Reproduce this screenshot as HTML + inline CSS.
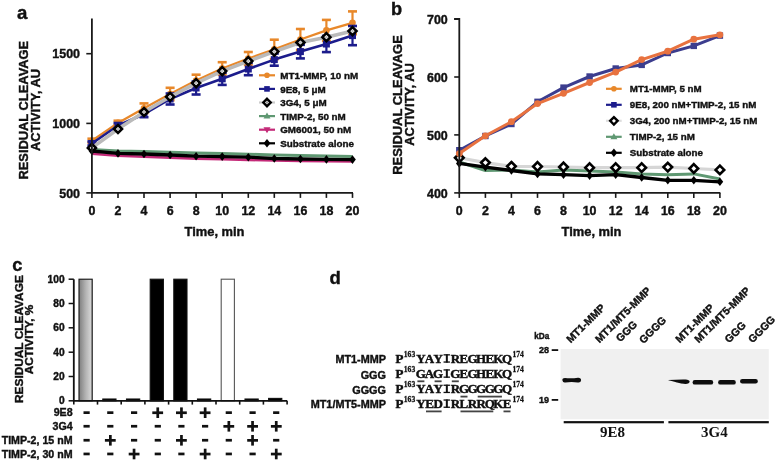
<!DOCTYPE html>
<html><head><meta charset="utf-8"><style>
html,body{margin:0;padding:0;background:#fff;width:776px;height:461px;overflow:hidden}
svg{display:block;filter:blur(0.4px)}
</style></head><body>
<svg width="776" height="461" viewBox="0 0 776 461">
<rect width="776" height="461" fill="#fff"/>
<g id="pa">
<polyline points="91.9,153.8 118.0,155.8 144.0,156.8 170.1,157.8 196.1,158.6 222.2,159.3 248.3,159.9 274.3,160.5 300.4,161.0 326.4,161.3 352.5,161.5" fill="none" stroke="#c42a78" stroke-width="2.6" stroke-linejoin="round" />
<polyline points="91.9,149.5 118.0,151.0 144.0,151.6 170.1,152.3 196.1,153.0 222.2,153.6 248.3,154.2 274.3,155.0 300.4,155.6 326.4,156.0 352.5,156.5" fill="none" stroke="#5f9872" stroke-width="3" stroke-linejoin="round" />
<polyline points="91.9,151.0 118.0,153.4 144.0,154.0 170.1,155.0 196.1,156.2 222.2,156.6 248.3,157.2 274.3,158.5 300.4,159.0 326.4,159.4 352.5,159.6" fill="none" stroke="#000" stroke-width="3.3" stroke-linejoin="round" />
<path d="M91.9,146.7 L95.2,151.0 L91.9,155.3 L88.6,151.0 Z" fill="#000"/>
<path d="M118.0,149.1 L121.3,153.4 L118.0,157.7 L114.7,153.4 Z" fill="#000"/>
<path d="M144.0,149.7 L147.3,154.0 L144.0,158.3 L140.7,154.0 Z" fill="#000"/>
<path d="M170.1,150.7 L173.4,155.0 L170.1,159.3 L166.8,155.0 Z" fill="#000"/>
<path d="M196.1,151.9 L199.4,156.2 L196.1,160.5 L192.8,156.2 Z" fill="#000"/>
<path d="M222.2,152.3 L225.5,156.6 L222.2,160.9 L218.9,156.6 Z" fill="#000"/>
<path d="M248.3,152.9 L251.6,157.2 L248.3,161.5 L245.0,157.2 Z" fill="#000"/>
<path d="M274.3,154.2 L277.6,158.5 L274.3,162.8 L271.0,158.5 Z" fill="#000"/>
<path d="M300.4,154.7 L303.7,159.0 L300.4,163.3 L297.1,159.0 Z" fill="#000"/>
<path d="M326.4,155.1 L329.7,159.4 L326.4,163.7 L323.1,159.4 Z" fill="#000"/>
<path d="M352.5,155.3 L355.8,159.6 L352.5,163.9 L349.2,159.6 Z" fill="#000"/>
<polyline points="91.9,140.7 118.0,122.9 144.0,108.2 170.1,94.0 196.1,80.5 222.2,68.5 248.3,58.5 274.3,49.4 300.4,39.5 326.4,30.4 352.5,22.8" fill="none" stroke="#e8882a" stroke-width="2.3" stroke-linejoin="round" />
<line x1="91.9" y1="140.7" x2="91.9" y2="138.7" stroke="#e8882a" stroke-width="2.2"/><line x1="87.4" y1="138.7" x2="96.4" y2="138.7" stroke="#e8882a" stroke-width="2.6"/><line x1="91.9" y1="140.7" x2="91.9" y2="142.7" stroke="#e8882a" stroke-width="2.2"/><line x1="87.4" y1="142.7" x2="96.4" y2="142.7" stroke="#e8882a" stroke-width="2.6"/>
<circle cx="91.9" cy="140.7" r="3.3" fill="#e8882a"/>
<line x1="118.0" y1="122.9" x2="118.0" y2="120.7" stroke="#e8882a" stroke-width="2.2"/><line x1="113.5" y1="120.7" x2="122.5" y2="120.7" stroke="#e8882a" stroke-width="2.6"/><line x1="118.0" y1="122.9" x2="118.0" y2="125.1" stroke="#e8882a" stroke-width="2.2"/><line x1="113.5" y1="125.1" x2="122.5" y2="125.1" stroke="#e8882a" stroke-width="2.6"/>
<circle cx="118.0" cy="122.9" r="3.3" fill="#e8882a"/>
<line x1="144.0" y1="108.2" x2="144.0" y2="103.4" stroke="#e8882a" stroke-width="2.2"/><line x1="139.5" y1="103.4" x2="148.5" y2="103.4" stroke="#e8882a" stroke-width="2.6"/><line x1="144.0" y1="108.2" x2="144.0" y2="113.0" stroke="#e8882a" stroke-width="2.2"/><line x1="139.5" y1="113.0" x2="148.5" y2="113.0" stroke="#e8882a" stroke-width="2.6"/>
<circle cx="144.0" cy="108.2" r="3.3" fill="#e8882a"/>
<line x1="170.1" y1="94.0" x2="170.1" y2="87.8" stroke="#e8882a" stroke-width="2.2"/><line x1="165.6" y1="87.8" x2="174.6" y2="87.8" stroke="#e8882a" stroke-width="2.6"/><line x1="170.1" y1="94.0" x2="170.1" y2="100.2" stroke="#e8882a" stroke-width="2.2"/><line x1="165.6" y1="100.2" x2="174.6" y2="100.2" stroke="#e8882a" stroke-width="2.6"/>
<circle cx="170.1" cy="94.0" r="3.3" fill="#e8882a"/>
<line x1="196.1" y1="80.5" x2="196.1" y2="74.7" stroke="#e8882a" stroke-width="2.2"/><line x1="191.6" y1="74.7" x2="200.6" y2="74.7" stroke="#e8882a" stroke-width="2.6"/><line x1="196.1" y1="80.5" x2="196.1" y2="86.3" stroke="#e8882a" stroke-width="2.2"/><line x1="191.6" y1="86.3" x2="200.6" y2="86.3" stroke="#e8882a" stroke-width="2.6"/>
<circle cx="196.1" cy="80.5" r="3.3" fill="#e8882a"/>
<line x1="222.2" y1="68.5" x2="222.2" y2="62.2" stroke="#e8882a" stroke-width="2.2"/><line x1="217.7" y1="62.2" x2="226.7" y2="62.2" stroke="#e8882a" stroke-width="2.6"/><line x1="222.2" y1="68.5" x2="222.2" y2="74.8" stroke="#e8882a" stroke-width="2.2"/><line x1="217.7" y1="74.8" x2="226.7" y2="74.8" stroke="#e8882a" stroke-width="2.6"/>
<circle cx="222.2" cy="68.5" r="3.3" fill="#e8882a"/>
<line x1="248.3" y1="58.5" x2="248.3" y2="52.0" stroke="#e8882a" stroke-width="2.2"/><line x1="243.8" y1="52.0" x2="252.8" y2="52.0" stroke="#e8882a" stroke-width="2.6"/><line x1="248.3" y1="58.5" x2="248.3" y2="65.0" stroke="#e8882a" stroke-width="2.2"/><line x1="243.8" y1="65.0" x2="252.8" y2="65.0" stroke="#e8882a" stroke-width="2.6"/>
<circle cx="248.3" cy="58.5" r="3.3" fill="#e8882a"/>
<line x1="274.3" y1="49.4" x2="274.3" y2="39.7" stroke="#e8882a" stroke-width="2.2"/><line x1="269.8" y1="39.7" x2="278.8" y2="39.7" stroke="#e8882a" stroke-width="2.6"/><line x1="274.3" y1="49.4" x2="274.3" y2="59.1" stroke="#e8882a" stroke-width="2.2"/><line x1="269.8" y1="59.1" x2="278.8" y2="59.1" stroke="#e8882a" stroke-width="2.6"/>
<circle cx="274.3" cy="49.4" r="3.3" fill="#e8882a"/>
<line x1="300.4" y1="39.5" x2="300.4" y2="29.0" stroke="#e8882a" stroke-width="2.2"/><line x1="295.9" y1="29.0" x2="304.9" y2="29.0" stroke="#e8882a" stroke-width="2.6"/><line x1="300.4" y1="39.5" x2="300.4" y2="50.0" stroke="#e8882a" stroke-width="2.2"/><line x1="295.9" y1="50.0" x2="304.9" y2="50.0" stroke="#e8882a" stroke-width="2.6"/>
<circle cx="300.4" cy="39.5" r="3.3" fill="#e8882a"/>
<line x1="326.4" y1="30.4" x2="326.4" y2="19.9" stroke="#e8882a" stroke-width="2.2"/><line x1="321.9" y1="19.9" x2="330.9" y2="19.9" stroke="#e8882a" stroke-width="2.6"/><line x1="326.4" y1="30.4" x2="326.4" y2="40.9" stroke="#e8882a" stroke-width="2.2"/><line x1="321.9" y1="40.9" x2="330.9" y2="40.9" stroke="#e8882a" stroke-width="2.6"/>
<circle cx="326.4" cy="30.4" r="3.3" fill="#e8882a"/>
<line x1="352.5" y1="22.8" x2="352.5" y2="11.4" stroke="#e8882a" stroke-width="2.2"/><line x1="348.0" y1="11.4" x2="357.0" y2="11.4" stroke="#e8882a" stroke-width="2.6"/><line x1="352.5" y1="22.8" x2="352.5" y2="34.2" stroke="#e8882a" stroke-width="2.2"/><line x1="348.0" y1="34.2" x2="357.0" y2="34.2" stroke="#e8882a" stroke-width="2.6"/>
<circle cx="352.5" cy="22.8" r="3.3" fill="#e8882a"/>
<polyline points="91.9,143.5 118.0,125.5 144.0,114.2 170.1,99.0 196.1,88.0 222.2,78.8 248.3,69.0 274.3,59.6 300.4,51.6 326.4,44.0 352.5,35.6" fill="none" stroke="#1c1c8c" stroke-width="2.6" stroke-linejoin="round" />
<line x1="91.9" y1="143.5" x2="91.9" y2="141.5" stroke="#1c1c8c" stroke-width="2.2"/><line x1="87.4" y1="141.5" x2="96.4" y2="141.5" stroke="#1c1c8c" stroke-width="2.6"/><line x1="91.9" y1="143.5" x2="91.9" y2="145.5" stroke="#1c1c8c" stroke-width="2.2"/><line x1="87.4" y1="145.5" x2="96.4" y2="145.5" stroke="#1c1c8c" stroke-width="2.6"/>
<rect x="88.4" y="140.0" width="7" height="7" fill="#1c1c8c"/>
<line x1="118.0" y1="125.5" x2="118.0" y2="123.0" stroke="#1c1c8c" stroke-width="2.2"/><line x1="113.5" y1="123.0" x2="122.5" y2="123.0" stroke="#1c1c8c" stroke-width="2.6"/><line x1="118.0" y1="125.5" x2="118.0" y2="128.0" stroke="#1c1c8c" stroke-width="2.2"/><line x1="113.5" y1="128.0" x2="122.5" y2="128.0" stroke="#1c1c8c" stroke-width="2.6"/>
<rect x="114.5" y="122.0" width="7" height="7" fill="#1c1c8c"/>
<line x1="144.0" y1="114.2" x2="144.0" y2="111.2" stroke="#1c1c8c" stroke-width="2.2"/><line x1="139.5" y1="111.2" x2="148.5" y2="111.2" stroke="#1c1c8c" stroke-width="2.6"/><line x1="144.0" y1="114.2" x2="144.0" y2="117.2" stroke="#1c1c8c" stroke-width="2.2"/><line x1="139.5" y1="117.2" x2="148.5" y2="117.2" stroke="#1c1c8c" stroke-width="2.6"/>
<rect x="140.5" y="110.7" width="7" height="7" fill="#1c1c8c"/>
<line x1="170.1" y1="99.0" x2="170.1" y2="93.5" stroke="#1c1c8c" stroke-width="2.2"/><line x1="165.6" y1="93.5" x2="174.6" y2="93.5" stroke="#1c1c8c" stroke-width="2.6"/><line x1="170.1" y1="99.0" x2="170.1" y2="104.5" stroke="#1c1c8c" stroke-width="2.2"/><line x1="165.6" y1="104.5" x2="174.6" y2="104.5" stroke="#1c1c8c" stroke-width="2.6"/>
<rect x="166.6" y="95.5" width="7" height="7" fill="#1c1c8c"/>
<line x1="196.1" y1="88.0" x2="196.1" y2="81.5" stroke="#1c1c8c" stroke-width="2.2"/><line x1="191.6" y1="81.5" x2="200.6" y2="81.5" stroke="#1c1c8c" stroke-width="2.6"/><line x1="196.1" y1="88.0" x2="196.1" y2="94.5" stroke="#1c1c8c" stroke-width="2.2"/><line x1="191.6" y1="94.5" x2="200.6" y2="94.5" stroke="#1c1c8c" stroke-width="2.6"/>
<rect x="192.6" y="84.5" width="7" height="7" fill="#1c1c8c"/>
<line x1="222.2" y1="78.8" x2="222.2" y2="72.7" stroke="#1c1c8c" stroke-width="2.2"/><line x1="217.7" y1="72.7" x2="226.7" y2="72.7" stroke="#1c1c8c" stroke-width="2.6"/><line x1="222.2" y1="78.8" x2="222.2" y2="84.9" stroke="#1c1c8c" stroke-width="2.2"/><line x1="217.7" y1="84.9" x2="226.7" y2="84.9" stroke="#1c1c8c" stroke-width="2.6"/>
<rect x="218.7" y="75.3" width="7" height="7" fill="#1c1c8c"/>
<line x1="248.3" y1="69.0" x2="248.3" y2="62.8" stroke="#1c1c8c" stroke-width="2.2"/><line x1="243.8" y1="62.8" x2="252.8" y2="62.8" stroke="#1c1c8c" stroke-width="2.6"/><line x1="248.3" y1="69.0" x2="248.3" y2="75.2" stroke="#1c1c8c" stroke-width="2.2"/><line x1="243.8" y1="75.2" x2="252.8" y2="75.2" stroke="#1c1c8c" stroke-width="2.6"/>
<rect x="244.8" y="65.5" width="7" height="7" fill="#1c1c8c"/>
<line x1="274.3" y1="59.6" x2="274.3" y2="53.5" stroke="#1c1c8c" stroke-width="2.2"/><line x1="269.8" y1="53.5" x2="278.8" y2="53.5" stroke="#1c1c8c" stroke-width="2.6"/><line x1="274.3" y1="59.6" x2="274.3" y2="65.7" stroke="#1c1c8c" stroke-width="2.2"/><line x1="269.8" y1="65.7" x2="278.8" y2="65.7" stroke="#1c1c8c" stroke-width="2.6"/>
<rect x="270.8" y="56.1" width="7" height="7" fill="#1c1c8c"/>
<line x1="300.4" y1="51.6" x2="300.4" y2="44.8" stroke="#1c1c8c" stroke-width="2.2"/><line x1="295.9" y1="44.8" x2="304.9" y2="44.8" stroke="#1c1c8c" stroke-width="2.6"/><line x1="300.4" y1="51.6" x2="300.4" y2="58.4" stroke="#1c1c8c" stroke-width="2.2"/><line x1="295.9" y1="58.4" x2="304.9" y2="58.4" stroke="#1c1c8c" stroke-width="2.6"/>
<rect x="296.9" y="48.1" width="7" height="7" fill="#1c1c8c"/>
<line x1="326.4" y1="44.0" x2="326.4" y2="35.9" stroke="#1c1c8c" stroke-width="2.2"/><line x1="321.9" y1="35.9" x2="330.9" y2="35.9" stroke="#1c1c8c" stroke-width="2.6"/><line x1="326.4" y1="44.0" x2="326.4" y2="52.1" stroke="#1c1c8c" stroke-width="2.2"/><line x1="321.9" y1="52.1" x2="330.9" y2="52.1" stroke="#1c1c8c" stroke-width="2.6"/>
<rect x="322.9" y="40.5" width="7" height="7" fill="#1c1c8c"/>
<line x1="352.5" y1="35.6" x2="352.5" y2="26.0" stroke="#1c1c8c" stroke-width="2.2"/><line x1="348.0" y1="26.0" x2="357.0" y2="26.0" stroke="#1c1c8c" stroke-width="2.6"/><line x1="352.5" y1="35.6" x2="352.5" y2="45.2" stroke="#1c1c8c" stroke-width="2.2"/><line x1="348.0" y1="45.2" x2="357.0" y2="45.2" stroke="#1c1c8c" stroke-width="2.6"/>
<rect x="349.0" y="32.1" width="7" height="7" fill="#1c1c8c"/>
<polyline points="91.9,147.9 118.0,129.0 144.0,112.0 170.1,96.8 196.1,83.1 222.2,71.1 248.3,61.1 274.3,51.6 300.4,42.5 326.4,37.2 352.5,31.1" fill="none" stroke="#bababa" stroke-width="3.6" stroke-linejoin="round" />
<path d="M91.9,143.9 L95.9,147.9 L91.9,151.9 L87.9,147.9 Z" fill="#fff" stroke="#000" stroke-width="2.6"/><circle cx="91.9" cy="147.9" r="1.3" fill="#bbb"/>
<path d="M118.0,125.0 L122.0,129.0 L118.0,133.0 L114.0,129.0 Z" fill="#fff" stroke="#000" stroke-width="2.6"/><circle cx="118.0" cy="129.0" r="1.3" fill="#bbb"/>
<path d="M144.0,108.0 L148.0,112.0 L144.0,116.0 L140.0,112.0 Z" fill="#fff" stroke="#000" stroke-width="2.6"/><circle cx="144.0" cy="112.0" r="1.3" fill="#bbb"/>
<path d="M170.1,92.8 L174.1,96.8 L170.1,100.8 L166.1,96.8 Z" fill="#fff" stroke="#000" stroke-width="2.6"/><circle cx="170.1" cy="96.8" r="1.3" fill="#bbb"/>
<path d="M196.1,79.1 L200.1,83.1 L196.1,87.1 L192.1,83.1 Z" fill="#fff" stroke="#000" stroke-width="2.6"/><circle cx="196.1" cy="83.1" r="1.3" fill="#bbb"/>
<path d="M222.2,67.1 L226.2,71.1 L222.2,75.1 L218.2,71.1 Z" fill="#fff" stroke="#000" stroke-width="2.6"/><circle cx="222.2" cy="71.1" r="1.3" fill="#bbb"/>
<path d="M248.3,57.1 L252.3,61.1 L248.3,65.1 L244.3,61.1 Z" fill="#fff" stroke="#000" stroke-width="2.6"/><circle cx="248.3" cy="61.1" r="1.3" fill="#bbb"/>
<path d="M274.3,47.6 L278.3,51.6 L274.3,55.6 L270.3,51.6 Z" fill="#fff" stroke="#000" stroke-width="2.6"/><circle cx="274.3" cy="51.6" r="1.3" fill="#bbb"/>
<path d="M300.4,38.5 L304.4,42.5 L300.4,46.5 L296.4,42.5 Z" fill="#fff" stroke="#000" stroke-width="2.6"/><circle cx="300.4" cy="42.5" r="1.3" fill="#bbb"/>
<path d="M326.4,33.2 L330.4,37.2 L326.4,41.2 L322.4,37.2 Z" fill="#fff" stroke="#000" stroke-width="2.6"/><circle cx="326.4" cy="37.2" r="1.3" fill="#bbb"/>
<path d="M352.5,27.1 L356.5,31.1 L352.5,35.1 L348.5,31.1 Z" fill="#fff" stroke="#000" stroke-width="2.6"/><circle cx="352.5" cy="31.1" r="1.3" fill="#bbb"/>
<path d="M91.9,18.4 V192.9 H353.0" fill="none" stroke="#1a1a1a" stroke-width="1.8"/>
<line x1="86.3" y1="192.9" x2="91.9" y2="192.9" stroke="#1a1a1a" stroke-width="1.6"/>
<text x="80" y="197.5" text-anchor="end" style="font-family:'Liberation Sans',sans-serif;font-weight:bold;stroke:#111;stroke-width:0.4px;font-size:12.45px" fill="#111">500</text>
<line x1="86.3" y1="123.4" x2="91.9" y2="123.4" stroke="#1a1a1a" stroke-width="1.6"/>
<text x="80" y="128.0" text-anchor="end" style="font-family:'Liberation Sans',sans-serif;font-weight:bold;stroke:#111;stroke-width:0.4px;font-size:12.45px" fill="#111">1000</text>
<line x1="86.3" y1="53.7" x2="91.9" y2="53.7" stroke="#1a1a1a" stroke-width="1.6"/>
<text x="80" y="58.300000000000004" text-anchor="end" style="font-family:'Liberation Sans',sans-serif;font-weight:bold;stroke:#111;stroke-width:0.4px;font-size:12.45px" fill="#111">1500</text>
<line x1="91.9" y1="192.9" x2="91.9" y2="197.9" stroke="#1a1a1a" stroke-width="1.6"/>
<text x="91.9" y="214.8" text-anchor="middle" style="font-family:'Liberation Sans',sans-serif;font-weight:bold;stroke:#111;stroke-width:0.4px;font-size:12.4px" fill="#111">0</text>
<line x1="118.0" y1="192.9" x2="118.0" y2="197.9" stroke="#1a1a1a" stroke-width="1.6"/>
<text x="118.0" y="214.8" text-anchor="middle" style="font-family:'Liberation Sans',sans-serif;font-weight:bold;stroke:#111;stroke-width:0.4px;font-size:12.4px" fill="#111">2</text>
<line x1="144.0" y1="192.9" x2="144.0" y2="197.9" stroke="#1a1a1a" stroke-width="1.6"/>
<text x="144.0" y="214.8" text-anchor="middle" style="font-family:'Liberation Sans',sans-serif;font-weight:bold;stroke:#111;stroke-width:0.4px;font-size:12.4px" fill="#111">4</text>
<line x1="170.1" y1="192.9" x2="170.1" y2="197.9" stroke="#1a1a1a" stroke-width="1.6"/>
<text x="170.1" y="214.8" text-anchor="middle" style="font-family:'Liberation Sans',sans-serif;font-weight:bold;stroke:#111;stroke-width:0.4px;font-size:12.4px" fill="#111">6</text>
<line x1="196.1" y1="192.9" x2="196.1" y2="197.9" stroke="#1a1a1a" stroke-width="1.6"/>
<text x="196.1" y="214.8" text-anchor="middle" style="font-family:'Liberation Sans',sans-serif;font-weight:bold;stroke:#111;stroke-width:0.4px;font-size:12.4px" fill="#111">8</text>
<line x1="222.2" y1="192.9" x2="222.2" y2="197.9" stroke="#1a1a1a" stroke-width="1.6"/>
<text x="222.2" y="214.8" text-anchor="middle" style="font-family:'Liberation Sans',sans-serif;font-weight:bold;stroke:#111;stroke-width:0.4px;font-size:12.4px" fill="#111">10</text>
<line x1="248.3" y1="192.9" x2="248.3" y2="197.9" stroke="#1a1a1a" stroke-width="1.6"/>
<text x="248.3" y="214.8" text-anchor="middle" style="font-family:'Liberation Sans',sans-serif;font-weight:bold;stroke:#111;stroke-width:0.4px;font-size:12.4px" fill="#111">12</text>
<line x1="274.3" y1="192.9" x2="274.3" y2="197.9" stroke="#1a1a1a" stroke-width="1.6"/>
<text x="274.3" y="214.8" text-anchor="middle" style="font-family:'Liberation Sans',sans-serif;font-weight:bold;stroke:#111;stroke-width:0.4px;font-size:12.4px" fill="#111">14</text>
<line x1="300.4" y1="192.9" x2="300.4" y2="197.9" stroke="#1a1a1a" stroke-width="1.6"/>
<text x="300.4" y="214.8" text-anchor="middle" style="font-family:'Liberation Sans',sans-serif;font-weight:bold;stroke:#111;stroke-width:0.4px;font-size:12.4px" fill="#111">16</text>
<line x1="326.4" y1="192.9" x2="326.4" y2="197.9" stroke="#1a1a1a" stroke-width="1.6"/>
<text x="326.4" y="214.8" text-anchor="middle" style="font-family:'Liberation Sans',sans-serif;font-weight:bold;stroke:#111;stroke-width:0.4px;font-size:12.4px" fill="#111">18</text>
<line x1="352.5" y1="192.9" x2="352.5" y2="197.9" stroke="#1a1a1a" stroke-width="1.6"/>
<text x="352.5" y="214.8" text-anchor="middle" style="font-family:'Liberation Sans',sans-serif;font-weight:bold;stroke:#111;stroke-width:0.4px;font-size:12.4px" fill="#111">20</text>
<text x="214.5" y="236" text-anchor="middle" style="font-family:'Liberation Sans',sans-serif;font-weight:bold;stroke:#111;stroke-width:0.4px;font-size:12.9px" fill="#111">Time, min</text>
<text transform="translate(27.9,110.2) rotate(-90)" text-anchor="middle" style="font-family:'Liberation Sans',sans-serif;font-weight:bold;stroke:#111;stroke-width:0.4px;font-size:13.2px" fill="#111" textLength="138.8" lengthAdjust="spacingAndGlyphs">RESIDUAL CLEAVAGE</text>
<text transform="translate(39.8,110) rotate(-90)" text-anchor="middle" style="font-family:'Liberation Sans',sans-serif;font-weight:bold;stroke:#111;stroke-width:0.4px;font-size:13.2px" fill="#111" textLength="81.9" lengthAdjust="spacingAndGlyphs">ACTIVITY, AU</text>
<text x="17" y="18.8" style="font-family:'Liberation Sans',sans-serif;font-weight:bold;stroke:#111;stroke-width:0.4px;font-size:18.6px" fill="#111">a</text>
<line x1="259" y1="75.3" x2="275" y2="75.3" stroke="#e8882a" stroke-width="2.2"/>
<circle cx="267" cy="75.3" r="2.8" fill="#e8882a"/>
<text x="280.2" y="78.9" style="font-family:'Liberation Sans',sans-serif;font-weight:bold;stroke:#111;stroke-width:0.4px;font-size:9.85px" fill="#111">MT1-MMP, 10 nM</text>
<line x1="259" y1="88.9" x2="275" y2="88.9" stroke="#1c1c8c" stroke-width="2.2"/>
<rect x="264.2" y="86.1" width="5.6" height="5.6" fill="#1c1c8c"/>
<text x="280.2" y="92.5" style="font-family:'Liberation Sans',sans-serif;font-weight:bold;stroke:#111;stroke-width:0.4px;font-size:9.85px" fill="#111">9E8, 5 μM</text>
<line x1="259" y1="102.5" x2="275" y2="102.5" stroke="#ccc" stroke-width="2.2"/>
<path d="M267.0,98.8 L270.7,102.5 L267.0,106.2 L263.3,102.5 Z" fill="#fff" stroke="#000" stroke-width="2.4"/><circle cx="267.0" cy="102.5" r="1.3" fill="#999"/>
<text x="280.2" y="106.1" style="font-family:'Liberation Sans',sans-serif;font-weight:bold;stroke:#111;stroke-width:0.4px;font-size:9.85px" fill="#111">3G4, 5 μM</text>
<line x1="259" y1="116.1" x2="275" y2="116.1" stroke="#5f9872" stroke-width="2.2"/>
<path d="M267,112.6 L270.5,118.6 L263.5,118.6 Z" fill="#5f9872"/>
<text x="280.2" y="119.7" style="font-family:'Liberation Sans',sans-serif;font-weight:bold;stroke:#111;stroke-width:0.4px;font-size:9.85px" fill="#111">TIMP-2, 50 nM</text>
<line x1="259" y1="129.7" x2="275" y2="129.7" stroke="#c42a78" stroke-width="2.2"/>
<path d="M267,133.2 L270.5,127.2 L263.5,127.2 Z" fill="#c42a78"/>
<text x="280.2" y="133.3" style="font-family:'Liberation Sans',sans-serif;font-weight:bold;stroke:#111;stroke-width:0.4px;font-size:9.85px" fill="#111">GM6001, 50 nM</text>
<line x1="259" y1="143.3" x2="275" y2="143.3" stroke="#000" stroke-width="2.2"/>
<path d="M267.0,139.1 L270.4,143.3 L267.0,147.5 L263.6,143.3 Z" fill="#000"/>
<text x="280.2" y="146.9" style="font-family:'Liberation Sans',sans-serif;font-weight:bold;stroke:#111;stroke-width:0.4px;font-size:9.85px" fill="#111">Substrate alone</text>
</g>
<g id="pb">
<polyline points="459.3,157.8 485.4,162.6 511.4,166.3 537.5,166.5 563.5,167.0 589.6,167.7 615.7,167.7 641.7,167.7 667.8,167.1 693.8,168.5 719.9,169.9" fill="none" stroke="#d6d6d6" stroke-width="3.2" stroke-linejoin="round" />
<polyline points="459.3,162.0 485.4,170.5 511.4,170.0 537.5,172.0 563.5,170.0 589.6,171.0 615.7,171.9 641.7,173.9 667.8,174.7 693.8,173.9 719.9,179.0" fill="none" stroke="#5f9872" stroke-width="3" stroke-linejoin="round" />
<polyline points="459.3,163.4 485.4,167.1 511.4,170.5 537.5,173.9 563.5,174.7 589.6,175.6 615.7,174.7 641.7,177.5 667.8,180.3 693.8,180.3 719.9,181.8" fill="none" stroke="#000" stroke-width="3.3" stroke-linejoin="round" />
<path d="M459.3,159.1 L462.6,163.4 L459.3,167.7 L456.0,163.4 Z" fill="#000"/>
<path d="M485.4,162.8 L488.7,167.1 L485.4,171.4 L482.1,167.1 Z" fill="#000"/>
<path d="M511.4,166.2 L514.7,170.5 L511.4,174.8 L508.1,170.5 Z" fill="#000"/>
<path d="M537.5,169.6 L540.8,173.9 L537.5,178.2 L534.2,173.9 Z" fill="#000"/>
<path d="M563.5,170.4 L566.8,174.7 L563.5,179.0 L560.2,174.7 Z" fill="#000"/>
<path d="M589.6,171.3 L592.9,175.6 L589.6,179.9 L586.3,175.6 Z" fill="#000"/>
<path d="M615.7,170.4 L619.0,174.7 L615.7,179.0 L612.4,174.7 Z" fill="#000"/>
<path d="M641.7,173.2 L645.0,177.5 L641.7,181.8 L638.4,177.5 Z" fill="#000"/>
<path d="M667.8,176.0 L671.1,180.3 L667.8,184.6 L664.5,180.3 Z" fill="#000"/>
<path d="M693.8,176.0 L697.1,180.3 L693.8,184.6 L690.5,180.3 Z" fill="#000"/>
<path d="M719.9,177.5 L723.2,181.8 L719.9,186.1 L716.6,181.8 Z" fill="#000"/>
<path d="M459.3,153.5 L463.6,157.8 L459.3,162.1 L455.0,157.8 Z" fill="#fff" stroke="#000" stroke-width="2.6"/>
<path d="M485.4,158.3 L489.7,162.6 L485.4,166.9 L481.1,162.6 Z" fill="#fff" stroke="#000" stroke-width="2.6"/>
<path d="M511.4,162.0 L515.7,166.3 L511.4,170.6 L507.1,166.3 Z" fill="#fff" stroke="#000" stroke-width="2.6"/>
<path d="M537.5,162.2 L541.8,166.5 L537.5,170.8 L533.2,166.5 Z" fill="#fff" stroke="#000" stroke-width="2.6"/>
<path d="M563.5,162.7 L567.8,167.0 L563.5,171.3 L559.2,167.0 Z" fill="#fff" stroke="#000" stroke-width="2.6"/>
<path d="M589.6,163.4 L593.9,167.7 L589.6,172.0 L585.3,167.7 Z" fill="#fff" stroke="#000" stroke-width="2.6"/>
<path d="M615.7,163.4 L620.0,167.7 L615.7,172.0 L611.4,167.7 Z" fill="#fff" stroke="#000" stroke-width="2.6"/>
<path d="M641.7,163.4 L646.0,167.7 L641.7,172.0 L637.4,167.7 Z" fill="#fff" stroke="#000" stroke-width="2.6"/>
<path d="M667.8,162.8 L672.1,167.1 L667.8,171.4 L663.5,167.1 Z" fill="#fff" stroke="#000" stroke-width="2.6"/>
<path d="M693.8,164.2 L698.1,168.5 L693.8,172.8 L689.5,168.5 Z" fill="#fff" stroke="#000" stroke-width="2.6"/>
<path d="M719.9,165.6 L724.2,169.9 L719.9,174.2 L715.6,169.9 Z" fill="#fff" stroke="#000" stroke-width="2.6"/>
<polyline points="459.3,150.2 485.4,136.0 511.4,124.0 537.5,101.8 563.5,87.6 589.6,76.5 615.7,68.5 641.7,64.9 667.8,53.0 693.8,45.9 719.9,35.6" fill="none" stroke="#3c3d8e" stroke-width="3" stroke-linejoin="round" />
<rect x="456.1" y="147.0" width="6.4" height="6.4" fill="#3c3d8e"/>
<rect x="482.2" y="132.8" width="6.4" height="6.4" fill="#3c3d8e"/>
<rect x="508.2" y="120.8" width="6.4" height="6.4" fill="#3c3d8e"/>
<rect x="534.3" y="98.6" width="6.4" height="6.4" fill="#3c3d8e"/>
<rect x="560.3" y="84.4" width="6.4" height="6.4" fill="#3c3d8e"/>
<rect x="586.4" y="73.3" width="6.4" height="6.4" fill="#3c3d8e"/>
<rect x="612.5" y="65.3" width="6.4" height="6.4" fill="#3c3d8e"/>
<rect x="638.5" y="61.7" width="6.4" height="6.4" fill="#3c3d8e"/>
<rect x="664.6" y="49.8" width="6.4" height="6.4" fill="#3c3d8e"/>
<rect x="690.6" y="42.7" width="6.4" height="6.4" fill="#3c3d8e"/>
<rect x="716.7" y="32.4" width="6.4" height="6.4" fill="#3c3d8e"/>
<polyline points="459.3,153.6 485.4,135.8 511.4,121.7 537.5,103.6 563.5,93.3 589.6,82.5 615.7,72.1 641.7,59.6 667.8,51.2 693.8,39.2 719.9,34.8" fill="none" stroke="#e8723f" stroke-width="3" stroke-linejoin="round" />
<circle cx="459.3" cy="153.6" r="3.4" fill="#e8723f"/>
<circle cx="485.4" cy="135.8" r="3.4" fill="#e8723f"/>
<circle cx="511.4" cy="121.7" r="3.4" fill="#e8723f"/>
<circle cx="537.5" cy="103.6" r="3.4" fill="#e8723f"/>
<circle cx="563.5" cy="93.3" r="3.4" fill="#e8723f"/>
<circle cx="589.6" cy="82.5" r="3.4" fill="#e8723f"/>
<circle cx="615.7" cy="72.1" r="3.4" fill="#e8723f"/>
<circle cx="641.7" cy="59.6" r="3.4" fill="#e8723f"/>
<circle cx="667.8" cy="51.2" r="3.4" fill="#e8723f"/>
<circle cx="693.8" cy="39.2" r="3.4" fill="#e8723f"/>
<circle cx="719.9" cy="34.8" r="3.4" fill="#e8723f"/>
<path d="M454.2,19 H459.3 V192.9 H720.4" fill="none" stroke="#1a1a1a" stroke-width="1.8"/>
<line x1="454.2" y1="192.9" x2="459.3" y2="192.9" stroke="#1a1a1a" stroke-width="1.6"/>
<text x="447.8" y="197.5" text-anchor="end" style="font-family:'Liberation Sans',sans-serif;font-weight:bold;stroke:#111;stroke-width:0.4px;font-size:12.45px" fill="#111">400</text>
<line x1="454.2" y1="134.9" x2="459.3" y2="134.9" stroke="#1a1a1a" stroke-width="1.6"/>
<text x="447.8" y="139.5" text-anchor="end" style="font-family:'Liberation Sans',sans-serif;font-weight:bold;stroke:#111;stroke-width:0.4px;font-size:12.45px" fill="#111">500</text>
<line x1="454.2" y1="77.0" x2="459.3" y2="77.0" stroke="#1a1a1a" stroke-width="1.6"/>
<text x="447.8" y="81.6" text-anchor="end" style="font-family:'Liberation Sans',sans-serif;font-weight:bold;stroke:#111;stroke-width:0.4px;font-size:12.45px" fill="#111">600</text>
<line x1="454.2" y1="19.0" x2="459.3" y2="19.0" stroke="#1a1a1a" stroke-width="1.6"/>
<text x="447.8" y="23.6" text-anchor="end" style="font-family:'Liberation Sans',sans-serif;font-weight:bold;stroke:#111;stroke-width:0.4px;font-size:12.45px" fill="#111">700</text>
<line x1="459.3" y1="192.9" x2="459.3" y2="197.9" stroke="#1a1a1a" stroke-width="1.6"/>
<text x="459.3" y="214.8" text-anchor="middle" style="font-family:'Liberation Sans',sans-serif;font-weight:bold;stroke:#111;stroke-width:0.4px;font-size:12.4px" fill="#111">0</text>
<line x1="485.4" y1="192.9" x2="485.4" y2="197.9" stroke="#1a1a1a" stroke-width="1.6"/>
<text x="485.4" y="214.8" text-anchor="middle" style="font-family:'Liberation Sans',sans-serif;font-weight:bold;stroke:#111;stroke-width:0.4px;font-size:12.4px" fill="#111">2</text>
<line x1="511.4" y1="192.9" x2="511.4" y2="197.9" stroke="#1a1a1a" stroke-width="1.6"/>
<text x="511.4" y="214.8" text-anchor="middle" style="font-family:'Liberation Sans',sans-serif;font-weight:bold;stroke:#111;stroke-width:0.4px;font-size:12.4px" fill="#111">4</text>
<line x1="537.5" y1="192.9" x2="537.5" y2="197.9" stroke="#1a1a1a" stroke-width="1.6"/>
<text x="537.5" y="214.8" text-anchor="middle" style="font-family:'Liberation Sans',sans-serif;font-weight:bold;stroke:#111;stroke-width:0.4px;font-size:12.4px" fill="#111">6</text>
<line x1="563.5" y1="192.9" x2="563.5" y2="197.9" stroke="#1a1a1a" stroke-width="1.6"/>
<text x="563.5" y="214.8" text-anchor="middle" style="font-family:'Liberation Sans',sans-serif;font-weight:bold;stroke:#111;stroke-width:0.4px;font-size:12.4px" fill="#111">8</text>
<line x1="589.6" y1="192.9" x2="589.6" y2="197.9" stroke="#1a1a1a" stroke-width="1.6"/>
<text x="589.6" y="214.8" text-anchor="middle" style="font-family:'Liberation Sans',sans-serif;font-weight:bold;stroke:#111;stroke-width:0.4px;font-size:12.4px" fill="#111">10</text>
<line x1="615.7" y1="192.9" x2="615.7" y2="197.9" stroke="#1a1a1a" stroke-width="1.6"/>
<text x="615.7" y="214.8" text-anchor="middle" style="font-family:'Liberation Sans',sans-serif;font-weight:bold;stroke:#111;stroke-width:0.4px;font-size:12.4px" fill="#111">12</text>
<line x1="641.7" y1="192.9" x2="641.7" y2="197.9" stroke="#1a1a1a" stroke-width="1.6"/>
<text x="641.7" y="214.8" text-anchor="middle" style="font-family:'Liberation Sans',sans-serif;font-weight:bold;stroke:#111;stroke-width:0.4px;font-size:12.4px" fill="#111">14</text>
<line x1="667.8" y1="192.9" x2="667.8" y2="197.9" stroke="#1a1a1a" stroke-width="1.6"/>
<text x="667.8" y="214.8" text-anchor="middle" style="font-family:'Liberation Sans',sans-serif;font-weight:bold;stroke:#111;stroke-width:0.4px;font-size:12.4px" fill="#111">16</text>
<line x1="693.8" y1="192.9" x2="693.8" y2="197.9" stroke="#1a1a1a" stroke-width="1.6"/>
<text x="693.8" y="214.8" text-anchor="middle" style="font-family:'Liberation Sans',sans-serif;font-weight:bold;stroke:#111;stroke-width:0.4px;font-size:12.4px" fill="#111">18</text>
<line x1="719.9" y1="192.9" x2="719.9" y2="197.9" stroke="#1a1a1a" stroke-width="1.6"/>
<text x="719.9" y="214.8" text-anchor="middle" style="font-family:'Liberation Sans',sans-serif;font-weight:bold;stroke:#111;stroke-width:0.4px;font-size:12.4px" fill="#111">20</text>
<text x="591.5" y="236" text-anchor="middle" style="font-family:'Liberation Sans',sans-serif;font-weight:bold;stroke:#111;stroke-width:0.4px;font-size:12.9px" fill="#111">Time, min</text>
<text transform="translate(401.6,105) rotate(-90)" text-anchor="middle" style="font-family:'Liberation Sans',sans-serif;font-weight:bold;stroke:#111;stroke-width:0.4px;font-size:13.2px" fill="#111" textLength="139.7" lengthAdjust="spacingAndGlyphs">RESIDUAL CLEAVAGE</text>
<text transform="translate(413.8,104.5) rotate(-90)" text-anchor="middle" style="font-family:'Liberation Sans',sans-serif;font-weight:bold;stroke:#111;stroke-width:0.4px;font-size:13.2px" fill="#111" textLength="82.4" lengthAdjust="spacingAndGlyphs">ACTIVITY, AU</text>
<text x="391" y="14.7" style="font-family:'Liberation Sans',sans-serif;font-weight:bold;stroke:#111;stroke-width:0.4px;font-size:18.2px" fill="#111">b</text>
<line x1="606" y1="88.8" x2="621.7" y2="88.8" stroke="#e8882a" stroke-width="2.2"/>
<circle cx="613.9" cy="88.8" r="2.8" fill="#e8882a"/>
<text x="629.8" y="92.3" style="font-family:'Liberation Sans',sans-serif;font-weight:bold;stroke:#111;stroke-width:0.4px;font-size:9.75px" fill="#111">MT1-MMP, 5 nM</text>
<line x1="606" y1="104.8" x2="621.7" y2="104.8" stroke="#1c1c8c" stroke-width="2.2"/>
<rect x="611.1" y="102.0" width="5.6" height="5.6" fill="#1c1c8c"/>
<text x="629.8" y="108.3" style="font-family:'Liberation Sans',sans-serif;font-weight:bold;stroke:#111;stroke-width:0.4px;font-size:9.75px" fill="#111">9E8, 200 nM+TIMP-2, 15 nM</text>
<line x1="606" y1="120.8" x2="621.7" y2="120.8" stroke="#ddd" stroke-width="2.2"/>
<path d="M613.9,117.1 L617.6,120.8 L613.9,124.5 L610.2,120.8 Z" fill="#fff" stroke="#000" stroke-width="2.4"/>
<text x="629.8" y="124.3" style="font-family:'Liberation Sans',sans-serif;font-weight:bold;stroke:#111;stroke-width:0.4px;font-size:9.75px" fill="#111">3G4, 200 nM+TIMP-2, 15 nM</text>
<line x1="606" y1="136.8" x2="621.7" y2="136.8" stroke="#5f9872" stroke-width="2.2"/>
<path d="M613.9,133.3 L617.4,139.3 L610.4,139.3 Z" fill="#5f9872"/>
<text x="629.8" y="140.3" style="font-family:'Liberation Sans',sans-serif;font-weight:bold;stroke:#111;stroke-width:0.4px;font-size:9.75px" fill="#111">TIMP-2, 15 nM</text>
<line x1="606" y1="152.8" x2="621.7" y2="152.8" stroke="#000" stroke-width="2.2"/>
<path d="M613.9,148.6 L617.3,152.8 L613.9,157.0 L610.5,152.8 Z" fill="#000"/>
<text x="629.8" y="156.3" style="font-family:'Liberation Sans',sans-serif;font-weight:bold;stroke:#111;stroke-width:0.4px;font-size:9.75px" fill="#111">Substrate alone</text>
</g>
<g id="pc">
<defs><linearGradient id="gg" x1="0" x2="1" y1="0" y2="0"><stop offset="0" stop-color="#7e7e7e"/><stop offset="0.5" stop-color="#b2b2b2"/><stop offset="0.88" stop-color="#d2d2d2"/><stop offset="1" stop-color="#c0c0c0"/></linearGradient></defs>
<rect x="79.0" y="279.2" width="13.2" height="121.6" fill="url(#gg)" stroke="#111" stroke-width="1.1"/>
<rect x="102.8" y="399.0" width="13.2" height="1.8" fill="#000" stroke="#111" stroke-width="1.1"/>
<rect x="126.5" y="399.0" width="13.2" height="1.8" fill="#000" stroke="#111" stroke-width="1.1"/>
<rect x="150.2" y="279.2" width="13.2" height="121.6" fill="#000" stroke="#111" stroke-width="1.1"/>
<rect x="173.8" y="279.2" width="13.2" height="121.6" fill="#000" stroke="#111" stroke-width="1.1"/>
<rect x="197.5" y="399.0" width="13.2" height="1.8" fill="#000" stroke="#111" stroke-width="1.1"/>
<rect x="221.2" y="279.2" width="13.2" height="121.6" fill="#fff" stroke="#555" stroke-width="1.1"/>
<rect x="245.0" y="399.0" width="13.2" height="1.8" fill="#000" stroke="#111" stroke-width="1.1"/>
<rect x="268.6" y="398.4" width="13.2" height="2.4" fill="#000" stroke="#111" stroke-width="1.1"/>
<path d="M73.8,279.2 V400.8 H287.09999999999997" fill="none" stroke="#111" stroke-width="1.8"/>
<line x1="73.8" y1="400.8" x2="73.8" y2="404.6" stroke="#111" stroke-width="1.6"/>
<line x1="97.5" y1="400.8" x2="97.5" y2="404.6" stroke="#111" stroke-width="1.6"/>
<line x1="121.2" y1="400.8" x2="121.2" y2="404.6" stroke="#111" stroke-width="1.6"/>
<line x1="144.9" y1="400.8" x2="144.9" y2="404.6" stroke="#111" stroke-width="1.6"/>
<line x1="168.6" y1="400.8" x2="168.6" y2="404.6" stroke="#111" stroke-width="1.6"/>
<line x1="192.3" y1="400.8" x2="192.3" y2="404.6" stroke="#111" stroke-width="1.6"/>
<line x1="216.0" y1="400.8" x2="216.0" y2="404.6" stroke="#111" stroke-width="1.6"/>
<line x1="239.7" y1="400.8" x2="239.7" y2="404.6" stroke="#111" stroke-width="1.6"/>
<line x1="263.4" y1="400.8" x2="263.4" y2="404.6" stroke="#111" stroke-width="1.6"/>
<line x1="287.1" y1="400.8" x2="287.1" y2="404.6" stroke="#111" stroke-width="1.6"/>
<line x1="68.6" y1="400.8" x2="73.8" y2="400.8" stroke="#111" stroke-width="1.5"/>
<text x="64.6" y="404.4" text-anchor="end" style="font-family:'Liberation Sans',sans-serif;font-weight:bold;stroke:#111;stroke-width:0.4px;font-size:10.2px" fill="#111">0</text>
<line x1="68.6" y1="376.5" x2="73.8" y2="376.5" stroke="#111" stroke-width="1.5"/>
<text x="64.6" y="380.1" text-anchor="end" style="font-family:'Liberation Sans',sans-serif;font-weight:bold;stroke:#111;stroke-width:0.4px;font-size:10.2px" fill="#111">20</text>
<line x1="68.6" y1="352.2" x2="73.8" y2="352.2" stroke="#111" stroke-width="1.5"/>
<text x="64.6" y="355.8" text-anchor="end" style="font-family:'Liberation Sans',sans-serif;font-weight:bold;stroke:#111;stroke-width:0.4px;font-size:10.2px" fill="#111">40</text>
<line x1="68.6" y1="327.8" x2="73.8" y2="327.8" stroke="#111" stroke-width="1.5"/>
<text x="64.6" y="331.4" text-anchor="end" style="font-family:'Liberation Sans',sans-serif;font-weight:bold;stroke:#111;stroke-width:0.4px;font-size:10.2px" fill="#111">60</text>
<line x1="68.6" y1="303.5" x2="73.8" y2="303.5" stroke="#111" stroke-width="1.5"/>
<text x="64.6" y="307.1" text-anchor="end" style="font-family:'Liberation Sans',sans-serif;font-weight:bold;stroke:#111;stroke-width:0.4px;font-size:10.2px" fill="#111">80</text>
<line x1="68.6" y1="279.2" x2="73.8" y2="279.2" stroke="#111" stroke-width="1.5"/>
<text x="64.6" y="282.8" text-anchor="end" style="font-family:'Liberation Sans',sans-serif;font-weight:bold;stroke:#111;stroke-width:0.4px;font-size:10.2px" fill="#111">100</text>
<text transform="translate(22.9,339.1) rotate(-90)" text-anchor="middle" style="font-family:'Liberation Sans',sans-serif;font-weight:bold;stroke:#111;stroke-width:0.4px;font-size:11.4px" fill="#111" textLength="127.8" lengthAdjust="spacingAndGlyphs">RESIDUAL CLEAVAGE</text>
<text x="12.2" y="270.6" style="font-family:'Liberation Sans',sans-serif;font-weight:bold;stroke:#111;stroke-width:0.4px;font-size:18.2px" fill="#111">c</text>
<text transform="translate(32.8,339.5) rotate(-90)" text-anchor="middle" style="font-family:'Liberation Sans',sans-serif;font-weight:bold;stroke:#111;stroke-width:0.4px;font-size:11.4px" fill="#111" textLength="69.5" lengthAdjust="spacingAndGlyphs">ACTIVITY, %</text>
<text x="72.6" y="416.4" text-anchor="end" style="font-family:'Liberation Sans',sans-serif;font-weight:bold;stroke:#111;stroke-width:0.4px;font-size:10.65px" fill="#111">9E8</text>
<rect x="83.5" y="411.3" width="6.2" height="2.7" fill="#111"/>
<rect x="107.2" y="411.3" width="6.2" height="2.7" fill="#111"/>
<rect x="131.0" y="411.3" width="6.2" height="2.7" fill="#111"/>
<rect x="152.3" y="411.4" width="10.8" height="2.7" fill="#111"/><rect x="156.4" y="407.4" width="2.7" height="10.6" fill="#111"/>
<rect x="176.0" y="411.4" width="10.8" height="2.7" fill="#111"/><rect x="180.1" y="407.4" width="2.7" height="10.6" fill="#111"/>
<rect x="199.7" y="411.4" width="10.8" height="2.7" fill="#111"/><rect x="203.8" y="407.4" width="2.7" height="10.6" fill="#111"/>
<rect x="225.7" y="411.3" width="6.2" height="2.7" fill="#111"/>
<rect x="249.5" y="411.3" width="6.2" height="2.7" fill="#111"/>
<rect x="273.1" y="411.3" width="6.2" height="2.7" fill="#111"/>
<text x="72.6" y="430.0" text-anchor="end" style="font-family:'Liberation Sans',sans-serif;font-weight:bold;stroke:#111;stroke-width:0.4px;font-size:10.65px" fill="#111">3G4</text>
<rect x="83.5" y="424.9" width="6.2" height="2.7" fill="#111"/>
<rect x="107.2" y="424.9" width="6.2" height="2.7" fill="#111"/>
<rect x="131.0" y="424.9" width="6.2" height="2.7" fill="#111"/>
<rect x="154.7" y="424.9" width="6.2" height="2.7" fill="#111"/>
<rect x="178.3" y="424.9" width="6.2" height="2.7" fill="#111"/>
<rect x="202.0" y="424.9" width="6.2" height="2.7" fill="#111"/>
<rect x="223.4" y="425.0" width="10.8" height="2.7" fill="#111"/><rect x="227.5" y="421.0" width="2.7" height="10.6" fill="#111"/>
<rect x="247.2" y="425.0" width="10.8" height="2.7" fill="#111"/><rect x="251.2" y="421.0" width="2.7" height="10.6" fill="#111"/>
<rect x="270.9" y="425.0" width="10.8" height="2.7" fill="#111"/><rect x="274.9" y="421.0" width="2.7" height="10.6" fill="#111"/>
<text x="72.6" y="444.0" text-anchor="end" style="font-family:'Liberation Sans',sans-serif;font-weight:bold;stroke:#111;stroke-width:0.4px;font-size:10.65px" fill="#111">TIMP-2, 15 nM</text>
<rect x="83.5" y="438.9" width="6.2" height="2.7" fill="#111"/>
<rect x="104.9" y="439.0" width="10.8" height="2.7" fill="#111"/><rect x="109.0" y="435.0" width="2.7" height="10.6" fill="#111"/>
<rect x="131.0" y="438.9" width="6.2" height="2.7" fill="#111"/>
<rect x="154.7" y="438.9" width="6.2" height="2.7" fill="#111"/>
<rect x="176.0" y="439.0" width="10.8" height="2.7" fill="#111"/><rect x="180.1" y="435.0" width="2.7" height="10.6" fill="#111"/>
<rect x="202.0" y="438.9" width="6.2" height="2.7" fill="#111"/>
<rect x="225.7" y="438.9" width="6.2" height="2.7" fill="#111"/>
<rect x="247.2" y="439.0" width="10.8" height="2.7" fill="#111"/><rect x="251.2" y="435.0" width="2.7" height="10.6" fill="#111"/>
<rect x="273.1" y="438.9" width="6.2" height="2.7" fill="#111"/>
<text x="72.6" y="457.7" text-anchor="end" style="font-family:'Liberation Sans',sans-serif;font-weight:bold;stroke:#111;stroke-width:0.4px;font-size:10.65px" fill="#111">TIMP-2, 30 nM</text>
<rect x="83.5" y="452.6" width="6.2" height="2.7" fill="#111"/>
<rect x="107.2" y="452.6" width="6.2" height="2.7" fill="#111"/>
<rect x="128.7" y="452.7" width="10.8" height="2.7" fill="#111"/><rect x="132.7" y="448.7" width="2.7" height="10.6" fill="#111"/>
<rect x="154.7" y="452.6" width="6.2" height="2.7" fill="#111"/>
<rect x="178.3" y="452.6" width="6.2" height="2.7" fill="#111"/>
<rect x="199.7" y="452.7" width="10.8" height="2.7" fill="#111"/><rect x="203.8" y="448.7" width="2.7" height="10.6" fill="#111"/>
<rect x="225.7" y="452.6" width="6.2" height="2.7" fill="#111"/>
<rect x="249.5" y="452.6" width="6.2" height="2.7" fill="#111"/>
<rect x="270.9" y="452.7" width="10.8" height="2.7" fill="#111"/><rect x="274.9" y="448.7" width="2.7" height="10.6" fill="#111"/>
</g>
<g id="pd">
<text x="329.6" y="284.2" style="font-family:'Liberation Sans',sans-serif;font-weight:bold;stroke:#111;stroke-width:0.4px;font-size:18.5px" fill="#111">d</text>
<text x="386" y="362.7" text-anchor="end" style="font-family:'Liberation Sans',sans-serif;font-weight:bold;stroke:#111;stroke-width:0.4px;font-size:10.85px" fill="#111">MT1-MMP</text>
<text x="399.60" y="362.6" text-anchor="middle" style="font-family:'Liberation Serif',serif;font-weight:bold;stroke:#111;stroke-width:0.45px;font-size:13px" fill="#111">P</text>
<text x="403.8" y="356.6" style="font-family:'Liberation Serif',serif;font-weight:bold;font-size:8.6px;stroke:#111;stroke-width:0.3px" fill="#111" textLength="11.4" lengthAdjust="spacingAndGlyphs">163</text>
<text x="420.91" y="362.6" text-anchor="middle" style="font-family:'Liberation Serif',serif;font-weight:bold;stroke:#111;stroke-width:0.45px;font-size:13px" fill="#111">Y</text>
<text x="429.52" y="362.6" text-anchor="middle" style="font-family:'Liberation Serif',serif;font-weight:bold;stroke:#111;stroke-width:0.45px;font-size:13px" fill="#111">A</text>
<text x="438.13" y="362.6" text-anchor="middle" style="font-family:'Liberation Serif',serif;font-weight:bold;stroke:#111;stroke-width:0.45px;font-size:13px" fill="#111">Y</text>
<rect x="445.84" y="354.30" width="2.0" height="8.3" fill="#111"/><rect x="443.54" y="354.20" width="6.4" height="1.3" fill="#111"/><rect x="443.54" y="361.40" width="6.4" height="1.3" fill="#111"/>
<text x="455.35" y="362.6" text-anchor="middle" style="font-family:'Liberation Serif',serif;font-weight:bold;stroke:#111;stroke-width:0.45px;font-size:13px" fill="#111">R</text>
<text x="463.96" y="362.6" text-anchor="middle" style="font-family:'Liberation Serif',serif;font-weight:bold;stroke:#111;stroke-width:0.45px;font-size:13px" fill="#111">E</text>
<text x="472.56" y="362.6" text-anchor="middle" style="font-family:'Liberation Serif',serif;font-weight:bold;stroke:#111;stroke-width:0.45px;font-size:13px" fill="#111">G</text>
<text x="481.18" y="362.6" text-anchor="middle" style="font-family:'Liberation Serif',serif;font-weight:bold;stroke:#111;stroke-width:0.45px;font-size:13px" fill="#111">H</text>
<text x="489.79" y="362.6" text-anchor="middle" style="font-family:'Liberation Serif',serif;font-weight:bold;stroke:#111;stroke-width:0.45px;font-size:13px" fill="#111">E</text>
<text x="498.40" y="362.6" text-anchor="middle" style="font-family:'Liberation Serif',serif;font-weight:bold;stroke:#111;stroke-width:0.45px;font-size:13px" fill="#111">K</text>
<text x="507.01" y="362.6" text-anchor="middle" style="font-family:'Liberation Serif',serif;font-weight:bold;stroke:#111;stroke-width:0.45px;font-size:13px" fill="#111">Q</text>
<text x="512.4" y="356.6" style="font-family:'Liberation Serif',serif;font-weight:bold;font-size:8.6px;stroke:#111;stroke-width:0.3px" fill="#111" textLength="11.4" lengthAdjust="spacingAndGlyphs">174</text>
<text x="386" y="379.0" text-anchor="end" style="font-family:'Liberation Sans',sans-serif;font-weight:bold;stroke:#111;stroke-width:0.4px;font-size:10.85px" fill="#111">GGG</text>
<text x="399.60" y="377.7" text-anchor="middle" style="font-family:'Liberation Serif',serif;font-weight:bold;stroke:#111;stroke-width:0.45px;font-size:13px" fill="#111">P</text>
<text x="403.8" y="371.7" style="font-family:'Liberation Serif',serif;font-weight:bold;font-size:8.6px;stroke:#111;stroke-width:0.3px" fill="#111" textLength="11.4" lengthAdjust="spacingAndGlyphs">163</text>
<text x="420.91" y="377.7" text-anchor="middle" style="font-family:'Liberation Serif',serif;font-weight:bold;stroke:#111;stroke-width:0.45px;font-size:13px" fill="#111">G</text>
<text x="429.52" y="377.7" text-anchor="middle" style="font-family:'Liberation Serif',serif;font-weight:bold;stroke:#111;stroke-width:0.45px;font-size:13px" fill="#111">A</text>
<text x="438.13" y="377.7" text-anchor="middle" style="font-family:'Liberation Serif',serif;font-weight:bold;stroke:#111;stroke-width:0.45px;font-size:13px" fill="#111">G</text>
<rect x="445.84" y="369.40" width="2.0" height="8.3" fill="#111"/><rect x="443.54" y="369.30" width="6.4" height="1.3" fill="#111"/><rect x="443.54" y="376.50" width="6.4" height="1.3" fill="#111"/>
<text x="455.35" y="377.7" text-anchor="middle" style="font-family:'Liberation Serif',serif;font-weight:bold;stroke:#111;stroke-width:0.45px;font-size:13px" fill="#111">G</text>
<text x="463.96" y="377.7" text-anchor="middle" style="font-family:'Liberation Serif',serif;font-weight:bold;stroke:#111;stroke-width:0.45px;font-size:13px" fill="#111">E</text>
<text x="472.56" y="377.7" text-anchor="middle" style="font-family:'Liberation Serif',serif;font-weight:bold;stroke:#111;stroke-width:0.45px;font-size:13px" fill="#111">G</text>
<text x="481.18" y="377.7" text-anchor="middle" style="font-family:'Liberation Serif',serif;font-weight:bold;stroke:#111;stroke-width:0.45px;font-size:13px" fill="#111">H</text>
<text x="489.79" y="377.7" text-anchor="middle" style="font-family:'Liberation Serif',serif;font-weight:bold;stroke:#111;stroke-width:0.45px;font-size:13px" fill="#111">E</text>
<text x="498.40" y="377.7" text-anchor="middle" style="font-family:'Liberation Serif',serif;font-weight:bold;stroke:#111;stroke-width:0.45px;font-size:13px" fill="#111">K</text>
<text x="507.01" y="377.7" text-anchor="middle" style="font-family:'Liberation Serif',serif;font-weight:bold;stroke:#111;stroke-width:0.45px;font-size:13px" fill="#111">Q</text>
<text x="512.4" y="371.7" style="font-family:'Liberation Serif',serif;font-weight:bold;font-size:8.6px;stroke:#111;stroke-width:0.3px" fill="#111" textLength="11.4" lengthAdjust="spacingAndGlyphs">174</text>
<rect x="417.4" y="380.4" width="7.0" height="1.8" fill="#444"/>
<rect x="434.6" y="380.4" width="7.0" height="1.8" fill="#444"/>
<rect x="451.8" y="380.4" width="7.0" height="1.8" fill="#444"/>
<text x="386" y="394.0" text-anchor="end" style="font-family:'Liberation Sans',sans-serif;font-weight:bold;stroke:#111;stroke-width:0.4px;font-size:10.85px" fill="#111">GGGG</text>
<text x="399.60" y="393.0" text-anchor="middle" style="font-family:'Liberation Serif',serif;font-weight:bold;stroke:#111;stroke-width:0.45px;font-size:13px" fill="#111">P</text>
<text x="403.8" y="387.0" style="font-family:'Liberation Serif',serif;font-weight:bold;font-size:8.6px;stroke:#111;stroke-width:0.3px" fill="#111" textLength="11.4" lengthAdjust="spacingAndGlyphs">163</text>
<text x="420.91" y="393.0" text-anchor="middle" style="font-family:'Liberation Serif',serif;font-weight:bold;stroke:#111;stroke-width:0.45px;font-size:13px" fill="#111">Y</text>
<text x="429.52" y="393.0" text-anchor="middle" style="font-family:'Liberation Serif',serif;font-weight:bold;stroke:#111;stroke-width:0.45px;font-size:13px" fill="#111">A</text>
<text x="438.13" y="393.0" text-anchor="middle" style="font-family:'Liberation Serif',serif;font-weight:bold;stroke:#111;stroke-width:0.45px;font-size:13px" fill="#111">Y</text>
<rect x="445.84" y="384.70" width="2.0" height="8.3" fill="#111"/><rect x="443.54" y="384.60" width="6.4" height="1.3" fill="#111"/><rect x="443.54" y="391.80" width="6.4" height="1.3" fill="#111"/>
<text x="455.35" y="393.0" text-anchor="middle" style="font-family:'Liberation Serif',serif;font-weight:bold;stroke:#111;stroke-width:0.45px;font-size:13px" fill="#111">R</text>
<text x="463.96" y="393.0" text-anchor="middle" style="font-family:'Liberation Serif',serif;font-weight:bold;stroke:#111;stroke-width:0.45px;font-size:13px" fill="#111">G</text>
<text x="472.56" y="393.0" text-anchor="middle" style="font-family:'Liberation Serif',serif;font-weight:bold;stroke:#111;stroke-width:0.45px;font-size:13px" fill="#111">G</text>
<text x="481.18" y="393.0" text-anchor="middle" style="font-family:'Liberation Serif',serif;font-weight:bold;stroke:#111;stroke-width:0.45px;font-size:13px" fill="#111">G</text>
<text x="489.79" y="393.0" text-anchor="middle" style="font-family:'Liberation Serif',serif;font-weight:bold;stroke:#111;stroke-width:0.45px;font-size:13px" fill="#111">G</text>
<text x="498.40" y="393.0" text-anchor="middle" style="font-family:'Liberation Serif',serif;font-weight:bold;stroke:#111;stroke-width:0.45px;font-size:13px" fill="#111">G</text>
<text x="507.01" y="393.0" text-anchor="middle" style="font-family:'Liberation Serif',serif;font-weight:bold;stroke:#111;stroke-width:0.45px;font-size:13px" fill="#111">Q</text>
<text x="512.4" y="387.0" style="font-family:'Liberation Serif',serif;font-weight:bold;font-size:8.6px;stroke:#111;stroke-width:0.3px" fill="#111" textLength="11.4" lengthAdjust="spacingAndGlyphs">174</text>
<rect x="460.5" y="395.7" width="7.0" height="1.8" fill="#444"/>
<rect x="477.7" y="395.7" width="24.2" height="1.8" fill="#444"/>
<text x="386" y="408.4" text-anchor="end" style="font-family:'Liberation Sans',sans-serif;font-weight:bold;stroke:#111;stroke-width:0.4px;font-size:10.85px" fill="#111">MT1/MT5-MMP</text>
<text x="399.60" y="407.8" text-anchor="middle" style="font-family:'Liberation Serif',serif;font-weight:bold;stroke:#111;stroke-width:0.45px;font-size:13px" fill="#111">P</text>
<text x="403.8" y="401.8" style="font-family:'Liberation Serif',serif;font-weight:bold;font-size:8.6px;stroke:#111;stroke-width:0.3px" fill="#111" textLength="11.4" lengthAdjust="spacingAndGlyphs">163</text>
<text x="420.91" y="407.8" text-anchor="middle" style="font-family:'Liberation Serif',serif;font-weight:bold;stroke:#111;stroke-width:0.45px;font-size:13px" fill="#111">Y</text>
<text x="429.52" y="407.8" text-anchor="middle" style="font-family:'Liberation Serif',serif;font-weight:bold;stroke:#111;stroke-width:0.45px;font-size:13px" fill="#111">E</text>
<text x="438.13" y="407.8" text-anchor="middle" style="font-family:'Liberation Serif',serif;font-weight:bold;stroke:#111;stroke-width:0.45px;font-size:13px" fill="#111">D</text>
<rect x="445.84" y="399.50" width="2.0" height="8.3" fill="#111"/><rect x="443.54" y="399.40" width="6.4" height="1.3" fill="#111"/><rect x="443.54" y="406.60" width="6.4" height="1.3" fill="#111"/>
<text x="455.35" y="407.8" text-anchor="middle" style="font-family:'Liberation Serif',serif;font-weight:bold;stroke:#111;stroke-width:0.45px;font-size:13px" fill="#111">R</text>
<text x="463.96" y="407.8" text-anchor="middle" style="font-family:'Liberation Serif',serif;font-weight:bold;stroke:#111;stroke-width:0.45px;font-size:13px" fill="#111">L</text>
<text x="472.56" y="407.8" text-anchor="middle" style="font-family:'Liberation Serif',serif;font-weight:bold;stroke:#111;stroke-width:0.45px;font-size:13px" fill="#111">R</text>
<text x="481.18" y="407.8" text-anchor="middle" style="font-family:'Liberation Serif',serif;font-weight:bold;stroke:#111;stroke-width:0.45px;font-size:13px" fill="#111">R</text>
<text x="489.79" y="407.8" text-anchor="middle" style="font-family:'Liberation Serif',serif;font-weight:bold;stroke:#111;stroke-width:0.45px;font-size:13px" fill="#111">Q</text>
<text x="498.40" y="407.8" text-anchor="middle" style="font-family:'Liberation Serif',serif;font-weight:bold;stroke:#111;stroke-width:0.45px;font-size:13px" fill="#111">K</text>
<text x="507.01" y="407.8" text-anchor="middle" style="font-family:'Liberation Serif',serif;font-weight:bold;stroke:#111;stroke-width:0.45px;font-size:13px" fill="#111">E</text>
<text x="512.4" y="401.8" style="font-family:'Liberation Serif',serif;font-weight:bold;font-size:8.6px;stroke:#111;stroke-width:0.3px" fill="#111" textLength="11.4" lengthAdjust="spacingAndGlyphs">174</text>
<rect x="426.0" y="410.5" width="15.6" height="1.8" fill="#444"/>
<rect x="460.5" y="410.5" width="32.8" height="1.8" fill="#444"/>
<rect x="503.5" y="410.5" width="7.0" height="1.8" fill="#444"/>
<rect x="560.6" y="349" width="208.2" height="70.2" fill="#f0f0f0"/>
<text x="534.3" y="339.2" style="font-family:'Liberation Sans',sans-serif;font-weight:bold;stroke:#111;stroke-width:0.4px;font-size:8.2px" fill="#111">kDa</text>
<text x="549" y="353" text-anchor="end" style="font-family:'Liberation Sans',sans-serif;font-weight:bold;stroke:#111;stroke-width:0.4px;font-size:9px" fill="#111">28</text>
<text x="549" y="403" text-anchor="end" style="font-family:'Liberation Sans',sans-serif;font-weight:bold;stroke:#111;stroke-width:0.4px;font-size:9px" fill="#111">19</text>
<rect x="551.7" y="349.2" width="6.5" height="1.8" fill="#111"/>
<rect x="551.7" y="399" width="6.5" height="1.8" fill="#111"/>
<defs><filter id="bl" x="-20%" y="-100%" width="140%" height="300%"><feGaussianBlur stdDeviation="0.5"/></filter></defs>
<g filter="url(#bl)" fill="#0d0d0d">
<path d="M562.4,380.2 Q562.2,377.9 565,377.9 Q571,378.6 578,377.7 Q581.2,377.6 581.1,380.2 Q581,382.6 578,382.4 Q571,381.4 565,382.5 Q562.6,382.6 562.4,380.2 Z"/>
<path d="M668.4,379.9 C674,379.6 680,379.3 685.5,379.4 Q689.6,379.6 689.6,381.6 Q689.6,383.9 685.5,383.9 C680,383.9 674,381.6 668.4,380.3 Z"/>
<rect x="692.6" y="380.1" width="20.6" height="4.5" rx="2.2"/>
<rect x="718.1" y="380.1" width="17.7" height="4.5" rx="2.2"/>
<rect x="740.1" y="378.9" width="17.7" height="4.5" rx="2.2"/>
</g>
<rect x="563.7" y="421.1" width="100.2" height="2.2" fill="#111"/>
<rect x="668.4" y="421.1" width="100.4" height="2.2" fill="#111"/>
<text x="612.5" y="436.8" text-anchor="middle" style="font-family:'Liberation Serif',serif;font-weight:bold;font-size:15px" fill="#111">9E8</text>
<text x="714.4" y="436.6" text-anchor="middle" style="font-family:'Liberation Serif',serif;font-weight:bold;font-size:15px" fill="#111">3G4</text>
<text transform="translate(570.8,343.4) rotate(-45)" style="font-family:'Liberation Sans',sans-serif;font-weight:bold;stroke:#111;stroke-width:0.4px;font-size:10.6px" fill="#111">MT1-MMP</text>
<text transform="translate(599.4,343.4) rotate(-45)" style="font-family:'Liberation Sans',sans-serif;font-weight:bold;stroke:#111;stroke-width:0.4px;font-size:10.6px" fill="#111">MT1/MT5-MMP</text>
<text transform="translate(620.3,342.6) rotate(-45)" style="font-family:'Liberation Sans',sans-serif;font-weight:bold;stroke:#111;stroke-width:0.4px;font-size:10.6px" fill="#111">GGG</text>
<text transform="translate(643.5,344.2) rotate(-45)" style="font-family:'Liberation Sans',sans-serif;font-weight:bold;stroke:#111;stroke-width:0.4px;font-size:10.6px" fill="#111">GGGG</text>
<text transform="translate(679.8,343.5) rotate(-45)" style="font-family:'Liberation Sans',sans-serif;font-weight:bold;stroke:#111;stroke-width:0.4px;font-size:10.6px" fill="#111">MT1-MMP</text>
<text transform="translate(698.7,343.5) rotate(-45)" style="font-family:'Liberation Sans',sans-serif;font-weight:bold;stroke:#111;stroke-width:0.4px;font-size:10.6px" fill="#111">MT1/MT5-MMP</text>
<text transform="translate(729.1,343.5) rotate(-45)" style="font-family:'Liberation Sans',sans-serif;font-weight:bold;stroke:#111;stroke-width:0.4px;font-size:10.6px" fill="#111">GGG</text>
<text transform="translate(752.6,343.5) rotate(-45)" style="font-family:'Liberation Sans',sans-serif;font-weight:bold;stroke:#111;stroke-width:0.4px;font-size:10.6px" fill="#111">GGGG</text>
</g>
</svg>
</body></html>
